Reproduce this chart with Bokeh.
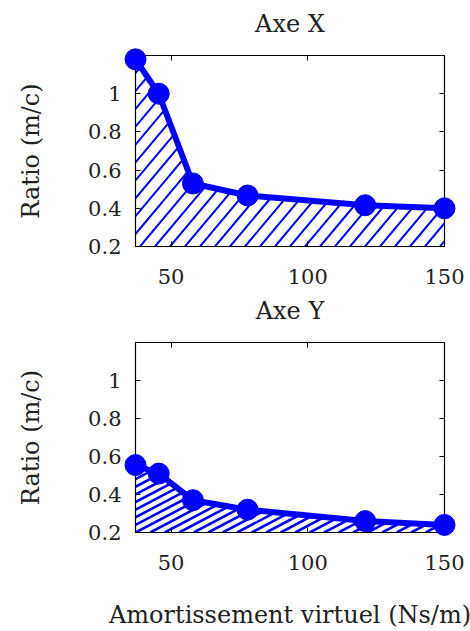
import numpy as np
from bokeh.plotting import figure
from bokeh.layouts import column
from bokeh.models import LinearAxis, FixedTicker, Range1d
from bokeh.embed import file_html
from bokeh.resources import INLINE

damping = [37, 45.5, 58, 78, 121, 150]
ratio_x = [1.18, 1.00, 0.53, 0.467, 0.416, 0.40]
ratio_y = [0.555, 0.51, 0.37, 0.32, 0.26, 0.24]
y_ticks = [0.2, 0.4, 0.6, 0.8, 1.0]
y_labels = {0.2: "0.2", 0.4: "0.4", 0.6: "0.6", 0.8: "0.8", 1.0: "1"}
x_ticks = [50, 100, 150]
y_min, y_max = 0.2, 1.2
titles = ["Axe X", "Axe Y"]
y_label = "Ratio (m/c)"
x_label = "Amortissement virtuel (Ns/m)"

FONT = "DejaVu Serif"
BLUE = "#0000ff"
TXT = "#222222"

FRAME_W = 309


def hatch_segments(xs, ys, angle_deg, spacing_px, frame_h):
    """Diagonal hatch lines (in data space) filling the area between y_min and the curve."""
    xs = np.asarray(xs, float)
    ys = np.asarray(ys, float)
    kx = FRAME_W / (xs[-1] - xs[0])
    ky = frame_h / (y_max - y_min)
    m = np.tan(np.radians(angle_deg)) * kx / ky
    dx = spacing_px / kx
    fine_x = np.linspace(xs[0], xs[-1], 4000)
    fine_f = np.interp(fine_x, xs, ys)
    xb_min = xs[0] - (ys[0] - y_min) / m
    x0s, y0s, x1s, y1s = [], [], [], []
    xb = xs[-1] - 0.3 * dx
    while xb > xb_min:
        line = y_min + m * (fine_x - xb)
        inside = (fine_x >= xb) & (line <= fine_f)
        if inside.any():
            xi = fine_x[inside]
            a = max(xb, xs[0])
            b = xi[-1]
            x0s.append(a)
            y0s.append(y_min + m * (a - xb))
            x1s.append(b)
            y1s.append(y_min + m * (b - xb))
        xb -= dx
    return x0s, y0s, x1s, y1s


def make_fig(title, values, height, top, bottom, frame_h, angle, spacing, weight, show_xlabel):
    p = figure(width=470, height=height, output_backend="svg", toolbar_location=None,
               x_range=Range1d(damping[0], damping[-1]), y_range=Range1d(y_min, y_max),
               min_border_left=135, min_border_right=26, min_border_top=top,
               min_border_bottom=bottom)
    p.grid.visible = False
    p.outline_line_color = "black"
    p.outline_line_width = 1.2
    p.background_fill_color = "white"
    p.border_fill_color = "white"

    x0, y0, x1, y1 = hatch_segments(damping, values, angle, spacing, frame_h)
    p.segment(x0=x0, y0=y0, x1=x1, y1=y1, line_color=BLUE, line_width=weight)
    p.line(damping, values, line_width=6, color=BLUE, level="overlay")
    p.scatter(damping, values, size=21, color=BLUE, level="overlay")

    for ax in [p.xaxis[0], p.yaxis[0]]:
        ax.major_tick_in = 5
        ax.major_tick_out = 0
        ax.minor_tick_line_color = None
        ax.axis_line_color = "black"
        ax.major_label_text_font = FONT
        ax.major_label_text_font_size = "21px"
        ax.major_label_text_color = TXT
        ax.axis_label_text_font = FONT
        ax.axis_label_text_font_size = "24px"
        ax.axis_label_text_font_style = "normal"
        ax.axis_label_text_color = TXT
    p.xaxis[0].ticker = FixedTicker(ticks=x_ticks)
    p.yaxis[0].ticker = FixedTicker(ticks=y_ticks)
    p.yaxis[0].major_label_overrides = y_labels
    p.xaxis[0].major_label_standoff = 22
    p.yaxis[0].major_label_standoff = 14
    p.yaxis[0].axis_label = y_label
    p.yaxis[0].axis_label_standoff = 40
    if show_xlabel:
        p.xaxis[0].axis_label = x_label
        p.xaxis[0].axis_label_standoff = 28

    right = LinearAxis(ticker=FixedTicker(ticks=y_ticks), major_tick_in=5, major_tick_out=0,
                       minor_tick_line_color=None, axis_line_color=None,
                       major_label_overrides={t: "" for t in y_ticks}, major_label_standoff=0)
    # top axis: inward ticks, and the panel title as its label
    above = LinearAxis(ticker=FixedTicker(ticks=x_ticks), major_tick_in=5, major_tick_out=0,
                       minor_tick_line_color=None, axis_line_color=None,
                       major_label_overrides={t: "" for t in x_ticks}, major_label_standoff=0,
                       axis_label=title, axis_label_standoff=18,
                       axis_label_text_font=FONT, axis_label_text_font_size="24px",
                       axis_label_text_font_style="normal", axis_label_text_color=TXT)
    p.add_layout(right, "right")
    p.add_layout(above, "above")
    return p


p1 = make_fig(titles[0], ratio_x, 293, 55, 47, 191, 50, 15, 2.0, False)
p2 = make_fig(titles[1], ratio_y, 338, 47, 99, 192, 28, 14.5, 2.6, True)
layout = column(p1, p2, spacing=0)

open("out.html", "w").write(file_html(layout, INLINE))
